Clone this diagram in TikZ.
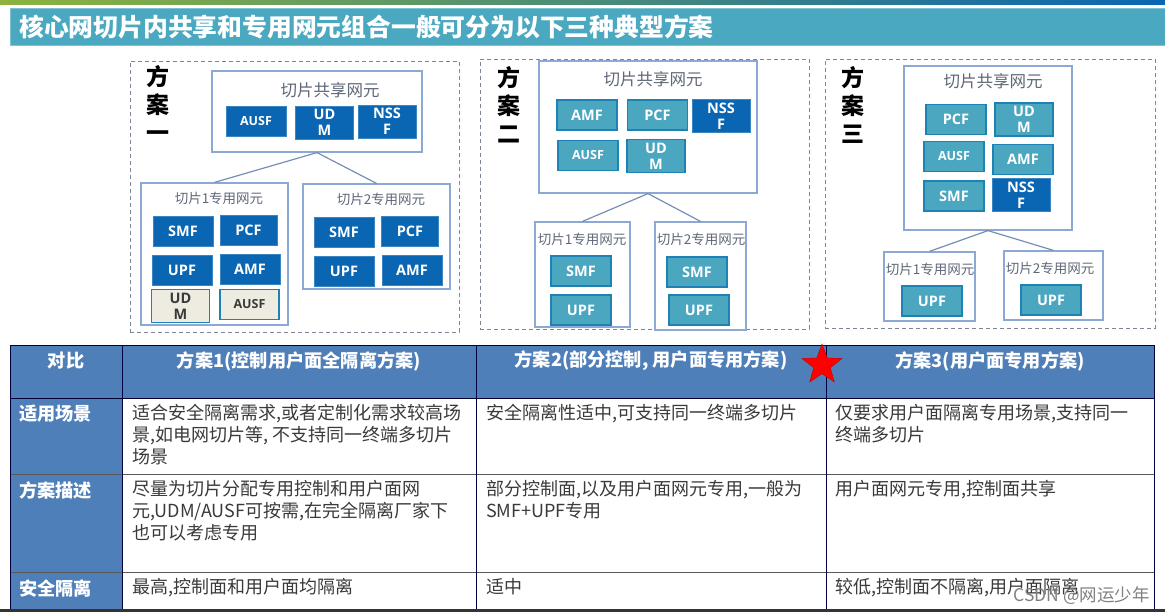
\documentclass[tikz,border=0pt]{standalone}
\usepackage{fontspec}
\usepackage{xcolor}
\usetikzlibrary{shapes.geometric}
\setmainfont{Open Sans}
\newfontfamily\cjk{Noto Sans CJK SC}
\definecolor{nf-blue}{HTML}{0A66B2}
\definecolor{nf-teal}{HTML}{4BA6C0}
\definecolor{nf-edge}{HTML}{1E82B4}
\definecolor{nf-grey}{HTML}{EEEBE0}
\definecolor{frame-blue}{HTML}{8CA8D4}
\definecolor{title-teal}{HTML}{4AA8C0}
\definecolor{head-blue}{HTML}{4F7FB8}
\definecolor{label-grey}{HTML}{5F6878}
\definecolor{text-grey}{HTML}{3A3A3A}
\definecolor{strip-green}{HTML}{8DB23E}
\tikzset{
    nf-box/.style = {rectangle, inner sep=0pt, align=center, font=\fontsize{14.5}{16}\selectfont\bfseries, minimum width=60pt, minimum height=30pt},
    nf-shared/.style = {nf-box, fill=nf-blue, draw=nf-blue!80!white, text=white},
    nf-own/.style = {nf-box, fill=nf-teal, draw=nf-edge, line width=1.2pt, text=white},
    nf-local/.style = {nf-box, fill=nf-grey, draw=nf-edge, line width=1.2pt, text=text-grey},
    small-nf/.style = {font=\fontsize{12.5}{15}\selectfont\bfseries},
    tall-nf/.style = {minimum width=58pt, minimum height=33pt},
    scheme-frame/.style = {draw=label-grey!80, dash pattern=on 4pt off 3pt, thick, rectangle, inner sep=0pt},
    scheme-label/.style = {font=\cjk\fontsize{23}{28}\selectfont\bfseries, align=center, text=black, anchor=north},
    group-box/.style = {draw=frame-blue, fill=white, line width=1.2pt, rectangle, inner sep=0pt},
    group-title/.style = {font=\cjk\fontsize{16.5}{18}\selectfont, text=label-grey},
    slice-title/.style = {font=\cjk\fontsize{13.5}{15}\selectfont, text=label-grey},
    group-line/.style = {draw=frame-blue!85!black, line width=1.2pt},
    head-text/.style = {font=\cjk\fontsize{18.2}{20}\selectfont\bfseries, text=white},
    row-text/.style = {font=\cjk\fontsize{18.2}{20}\selectfont\bfseries, text=white, anchor=west, inner sep=0pt},
    cell-text/.style = {font=\cjk\fontsize{18}{22}\selectfont, text=text-grey, anchor=north west, align=left, inner sep=0pt},
}
\begin{document}
\begin{tikzpicture}[x=1pt, y=-1pt]
\useasboundingbox (0,0) rectangle (1165,612);
\fill[white] (0,0) rectangle (1165,612);

\shade[left color=strip-green, right color=nf-blue] (0,0) rectangle (1165,5);
\node[fill=title-teal, draw=title-teal!70!white, rectangle, minimum width=1155pt, minimum height=37pt, inner sep=0pt] (titlebar) at (587.5,26.5) {};
\node[font=\cjk\fontsize{24.8}{28}\selectfont\bfseries, text=white, anchor=west, inner sep=0pt] (titletext) at (19,26.5) {核心网切片内共享和专用网元组合一般可分为以下三种典型方案};

% scheme one
\node[scheme-frame, minimum width=329pt, minimum height=271pt] (frame1) at (294.5,196.5) {};
\node[scheme-label] (label1) at (158,62) {方\\案\\一};
\node[group-box, minimum width=210pt, minimum height=81pt] (shared1) at (317,111.5) {};
\node[group-box, minimum width=147pt, minimum height=142pt] (slice11) at (214.5,254) {};
\node[group-box, minimum width=147pt, minimum height=105pt] (slice12) at (376.5,236.5) {};
\draw[group-line] (shared1.south) -- (slice11.north);
\draw[group-line] (shared1.south) -- (slice12.north);
\node[group-title] (shared1t) at (330,90) {切片共享网元};
\node[slice-title] (slice11t) at (219,198) {切片1专用网元};
\node[slice-title] (slice12t) at (381,199) {切片2专用网元};
\node[nf-shared, small-nf] (ausf1) at (256,121.5) {AUSF};
\node[nf-shared, tall-nf] (udm1) at (324.5,122.5) {UD\\M};
\node[nf-shared, tall-nf] (nssf1) at (387,121.5) {NSS\\F};
\node[nf-shared] (smf11) at (183,231) {SMF};
\node[nf-shared, minimum width=57pt] (pcf11) at (248.5,230.5) {PCF};
\node[nf-shared] (upf11) at (182,270) {UPF};
\node[nf-shared] (amf11) at (250,269) {AMF};
\node[nf-local, tall-nf] (udm11) at (180.5,306) {UD\\M};
\node[nf-local, small-nf, minimum width=59pt] (ausf11) at (249.5,304.5) {AUSF};
\node[nf-shared] (smf12) at (344,232) {SMF};
\node[nf-shared, minimum width=57pt] (pcf12) at (410,231) {PCF};
\node[nf-shared] (upf12) at (344,271) {UPF};
\node[nf-shared] (amf12) at (412,270) {AMF};

% scheme two
\node[scheme-frame, minimum width=329pt, minimum height=270pt] (frame2) at (644.5,194) {};
\node[scheme-label] (label2) at (509,63) {方\\案\\二};
\node[group-box, minimum width=218pt, minimum height=132pt] (shared2) at (648,127) {};
\node[group-box, minimum width=95pt, minimum height=105pt] (slice21) at (582.5,274.5) {};
\node[group-box, minimum width=91pt, minimum height=108pt] (slice22) at (700.5,276) {};
\draw[group-line] (shared2.south) -- (slice21.north);
\draw[group-line] (shared2.south) -- (slice22.north);
\node[group-title] (shared2t) at (653,79) {切片共享网元};
\node[slice-title] (slice21t) at (582,239) {切片1专用网元};
\node[slice-title] (slice22t) at (701,239) {切片2专用网元};
\node[nf-own] (amf2) at (587,115) {AMF};
\node[nf-own] (pcf2) at (657.5,115) {PCF};
\node[nf-shared, tall-nf] (nssf2) at (721,116) {NSS\\F};
\node[nf-own, small-nf] (ausf2) at (588,155.5) {AUSF};
\node[nf-own, tall-nf] (udm2) at (656,156) {UD\\M};
\node[nf-own] (smf21) at (581,271) {SMF};
\node[nf-own] (upf21) at (581,310) {UPF};
\node[nf-own] (smf22) at (697,272) {SMF};
\node[nf-own] (upf22) at (699,310) {UPF};

% scheme three
\node[scheme-frame, minimum width=330pt, minimum height=269pt] (frame3) at (990,193.5) {};
\node[scheme-label] (label3) at (853,63) {方\\案\\三};
\node[group-box, minimum width=168pt, minimum height=164pt] (shared3) at (988,148) {};
\node[group-box, minimum width=91pt, minimum height=69pt] (slice31) at (929.5,286.5) {};
\node[group-box, minimum width=99pt, minimum height=69pt] (slice32) at (1053.5,285.5) {};
\draw[group-line] (shared3.south) -- (slice31.north);
\draw[group-line] (shared3.south) -- (slice32.north);
\node[group-title] (shared3t) at (993,81) {切片共享网元};
\node[slice-title] (slice31t) at (930,269) {切片1专用网元};
\node[slice-title] (slice32t) at (1050,268) {切片2专用网元};
\node[nf-own] (pcf3) at (956,119.5) {PCF};
\node[nf-own, tall-nf] (udm3) at (1024,119.5) {UD\\M};
\node[nf-own, small-nf] (ausf3) at (954,156.5) {AUSF};
\node[nf-own] (amf3) at (1023,159.5) {AMF};
\node[nf-own] (smf3) at (954,196) {SMF};
\node[nf-shared, tall-nf] (nssf3) at (1021,195) {NSS\\F};
\node[nf-own] (upf31) at (932,301) {UPF};
\node[nf-own] (upf32) at (1051,300) {UPF};

% table
\fill[head-blue] (10,345) rectangle (1154,398);
\fill[head-blue] (10,398) rectangle (122,609);
\draw[black!65, thick] (10,474) -- (1154,474) (10,572) -- (1154,572);
\draw[black!80!blue, thick] (10,345) -- (1154,345) (10,398) -- (1154,398);
\foreach \colx in {10,122,476,826,1154}
    \draw[black!75!blue, thick] (\colx,345) -- (\colx,609);
\fill[black!80] (0,609) rectangle (1165,612);

\node[head-text] (headcmp) at (66,361) {对比};
\node[head-text] (head1) at (299,361) {方案1(控制用户面全隔离方案)};
\node[head-text] (head2) at (651,361) {方案2(部分控制, 用户面专用方案)};
\node[head-text] (head3) at (990,361) {方案3(用户面专用方案)};
\node[row-text] (rowuse) at (19,414) {适用场景};
\node[row-text] (rowdesc) at (19,490) {方案描述};
\node[row-text] (rowsafe) at (19,589) {安全隔离};

\node[cell-text] (cell11) at (132,404) {适合安全隔离需求,或者定制化需求较高场\\景,如电网切片等, 不支持同一终端多切片\\场景};
\node[cell-text] (cell12) at (486,404) {安全隔离性适中,可支持同一终端多切片};
\node[cell-text] (cell13) at (835,404) {仅要求用户面隔离专用场景,支持同一\\终端多切片};
\node[cell-text] (cell21) at (132,480) {尽量为切片分配专用控制和用户面网\\元,UDM/AUSF可按需,在完全隔离厂家下\\也可以考虑专用};
\node[cell-text] (cell22) at (486,480) {部分控制面,以及用户面网元专用,一般为\\SMF+UPF专用};
\node[cell-text] (cell23) at (835,480) {用户面网元专用,控制面共享};
\node[cell-text] (cell31) at (132,578) {最高,控制面和用户面均隔离};
\node[cell-text] (cell32) at (486,578) {适中};
\node[cell-text] (cell33) at (835,578) {较低,控制面不隔离,用户面隔离};

\node[star, star points=5, star point ratio=2.4, fill=red, draw=red!75!black, minimum size=42pt, inner sep=0pt] (mark) at (822,365) {};
\node[font=\cjk\fontsize{17.5}{18}\selectfont, text=black!50, anchor=east, inner sep=0pt] (wmark) at (1150,596) {CSDN @网运少年};
\end{tikzpicture}
\end{document}
